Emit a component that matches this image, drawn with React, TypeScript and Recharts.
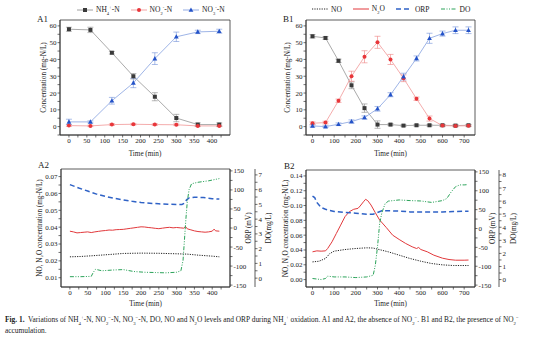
import React from 'react';
import { LineChart, Line, XAxis, YAxis, ErrorBar, ReferenceArea, Legend } from 'recharts';

const FONT = '"Liberation Serif", "Times New Roman", serif';

// A1 – NH4+ oxidation, no NO2- accumulation
const a1Time = [0, 60, 120, 180, 240, 300, 360, 420];
const a1NH4 = [58, 57.6, 44, 30, 17.8, 5.1, 1.2, 1.2];
const a1NH4Err = [1.2, 1.6, 0.8, 1.6, 2.4, 2.2, 1, 1];
const a1NO2 = [0.6, 0.4, 1.2, 1.4, 1.2, 1.1, 0.4, 0.4];
const a1NO2Err = [0.5, 0.4, 0.5, 0.5, 0.5, 0.5, 0.4, 0.4];
const a1NO3 = [2.8, 2.8, 15.4, 26, 40.5, 53.5, 56.4, 56.8];
const a1NO3Err = [1.6, 0.6, 2, 2.8, 3.5, 2.8, 1, 1.2];

// B1 – with NO2- accumulation
const b1Time = [0, 60, 120, 180, 240, 300, 360, 420, 480, 540, 600, 660, 720];
const b1NH4 = [53.8, 52.8, 39.2, 24.6, 11, 1.2, 1.2, 0.6, 0.8, 0.8, 0.8, 0.6, 0.8];
const b1NH4Err = [1, 0.8, 1, 2, 2.5, 2.2, 0.6, 0.5, 0.5, 0.5, 0.5, 0.5, 0.5];
const b1NO2 = [2, 2.4, 15.4, 30, 41.6, 50.2, 40, 28.8, 16.6, 4.8, 0.6, 0.4, 0.5];
const b1NO2Err = [0.8, 0.8, 1, 3, 3.6, 3.6, 3, 2, 1, 1.5, 0.6, 0.5, 0.5];
const b1NO3 = [0.4, 0, 1.4, 3, 5.4, 10.6, 19, 29.8, 40.6, 52.6, 55.4, 57.4, 57.4];
const b1NO3Err = [0.6, 0.5, 0.8, 1, 1, 1.4, 1.2, 2, 1.5, 3, 1.5, 2, 2];

// A2 – NO, N2O (mg-N/L), ORP (mV), DO (mg/L)
const a2NOTime = [0, 30, 60, 100, 150, 200, 250, 300, 330, 360, 400, 420];
const a2NO = [0.0224, 0.0226, 0.023, 0.0236, 0.0244, 0.0246, 0.0245, 0.0242, 0.024, 0.0234, 0.0228, 0.0224];
const a2N2OTime = [0, 10, 20, 30, 40, 50, 60, 70, 80, 90, 100, 110, 120, 130, 140, 150, 160, 170, 180, 190, 200, 210, 220, 230, 240, 250, 260, 270, 280, 290, 300, 310, 320, 325, 330, 340, 350, 360, 370, 380, 390, 400, 405, 410, 420];
const a2N2O = [0.0376, 0.0372, 0.0366, 0.0368, 0.037, 0.0372, 0.0368, 0.0372, 0.0375, 0.0378, 0.038, 0.0383, 0.0382, 0.0385, 0.0386, 0.0387, 0.039, 0.0393, 0.0396, 0.0399, 0.0402, 0.0401, 0.0398, 0.0396, 0.0393, 0.0391, 0.0394, 0.0397, 0.0399, 0.0396, 0.0398, 0.0396, 0.0394, 0.0404, 0.039, 0.0384, 0.0378, 0.0374, 0.0372, 0.037, 0.0372, 0.0376, 0.0388, 0.0378, 0.0376];
const a2ORPTime = [0, 25, 50, 75, 100, 125, 150, 175, 200, 225, 250, 275, 300, 315, 322, 328, 335, 350, 375, 400, 420];
const a2ORP = [114, 105, 97, 89, 83, 78, 74, 70, 67, 65, 63.5, 62.5, 62, 62, 65, 74, 79, 81, 80, 77, 76];
const a2DOTime = [0, 30, 60, 66, 72, 90, 120, 150, 180, 210, 240, 270, 300, 312, 318, 322, 326, 330, 335, 342, 360, 390, 420];
const a2DO = [0.1, 0.1, 0.12, 0.4, 0.6, 0.5, 0.55, 0.58, 0.45, 0.4, 0.38, 0.36, 0.4, 0.5, 1.2, 2.6, 4, 5.2, 6, 6.4, 6.5, 6.6, 6.75];

// B2
const b2NOTime = [0, 30, 60, 80, 100, 150, 200, 250, 280, 300, 350, 400, 450, 500, 550, 600, 650, 720];
const b2NO = [0.0239, 0.0248, 0.0285, 0.0352, 0.0384, 0.0406, 0.042, 0.0429, 0.0426, 0.0411, 0.0375, 0.033, 0.0285, 0.0248, 0.0217, 0.0199, 0.019, 0.019];
const b2N2OTime = [0, 20, 40, 60, 70, 90, 110, 130, 150, 170, 190, 210, 220, 235, 245, 255, 270, 290, 310, 340, 370, 400, 430, 460, 480, 490, 500, 530, 560, 600, 630, 660, 700, 720];
const b2N2O = [0.0375, 0.0388, 0.0384, 0.0388, 0.042, 0.051, 0.0623, 0.0736, 0.085, 0.0917, 0.0949, 0.0962, 0.0994, 0.105, 0.1084, 0.1066, 0.1007, 0.0903, 0.0804, 0.0705, 0.06, 0.0542, 0.0488, 0.0443, 0.042, 0.0434, 0.0406, 0.0375, 0.033, 0.0289, 0.0271, 0.0262, 0.0262, 0.0264];
const b2ORPTime = [0, 10, 20, 40, 60, 100, 150, 200, 250, 280, 300, 320, 350, 400, 450, 500, 600, 650, 700, 720];
const b2ORP = [86, 82, 69, 55.5, 51, 45, 42.5, 40.7, 38, 38, 42.5, 46.8, 47, 46, 44, 44, 44, 45, 46, 46];
const b2DOTime = [0, 40, 60, 70, 100, 150, 200, 250, 265, 280, 290, 300, 310, 320, 335, 350, 400, 450, 500, 550, 600, 620, 640, 660, 680, 700, 715];
const b2DO = [0.08, 0, 0.08, 0.26, 0.2, 0.2, 0.15, 0.2, 0.26, 0.33, 1.1, 2.5, 4.3, 5.1, 5.8, 6, 6.09, 6.04, 6.01, 5.9, 6.04, 6.2, 6.7, 7.1, 7.24, 7.24, 7.26];

// axis ticks
const a1XMajor = [0, 50, 100, 150, 200, 250, 300, 350, 400];
const a1XMinor = [25, 75, 125, 175, 225, 275, 325, 375, 425];
const b1XMajor = [0, 100, 200, 300, 400, 500, 600, 700];
const b1XMinor = [50, 150, 250, 350, 450, 550, 650];
const concMajor = [0, 10, 20, 30, 40, 50, 60];
const concMinor = [-5, 5, 15, 25, 35, 45, 55];
const a2CMajor = [0.01, 0.02, 0.03, 0.04, 0.05, 0.06, 0.07];
const a2CMinor = [0.015, 0.025, 0.035, 0.045, 0.055, 0.065];
const b2CMajor = [0, 0.02, 0.04, 0.06, 0.08, 0.1, 0.12, 0.14];
const b2CMinor = [0.01, 0.03, 0.05, 0.07, 0.09, 0.11, 0.13];
const orpMajor = [-150, -100, -50, 0, 50, 100, 150];
const orpMinor = [-125, -75, -25, 25, 75, 125];
const a2DOMajor = [0, 1, 2, 3, 4, 5, 6, 7];
const b2DOMajor = [0, 1, 2, 3, 4, 5, 6, 7, 8];
const doMinor = [0.5, 1.5, 2.5, 3.5, 4.5, 5.5, 6.5, 7.5];

const C = {
  axis: '#333',
  nh4: '#3a3a3a', nh4Line: '#a0a0a0',
  no2: '#e8363a', no2Line: '#f3a3a3',
  no3: '#2352c8', no3Line: '#93abe3',
  no: '#222', n2o: '#e2393c', orp: '#2f62c6', dox: '#2ca35a',
};

const pts = (t: number[], v: number[]) => t.map((x, i) => ({ t: x, v: v[i] }));
const union = (a: number[], b: number[]) => [...a, ...b].sort((p, q) => p - q);
const fmt = (majors: number[], digits = 0) => (v: number) =>
  majors.some((m) => Math.abs(m - v) < 1e-9) ? v.toFixed(digits) : '';

const a1Data = a1Time.map((t, i) => ({
  t, nh4: a1NH4[i], nh4Err: a1NH4Err[i], no2: a1NO2[i], no2Err: a1NO2Err[i], no3: a1NO3[i], no3Err: a1NO3Err[i],
}));
const b1Data = b1Time.map((t, i) => ({
  t, nh4: b1NH4[i], nh4Err: b1NH4Err[i], no2: b1NO2[i], no2Err: b1NO2Err[i], no3: b1NO3[i], no3Err: b1NO3Err[i],
}));

const tickStyle = { fontSize: 7, fill: '#222', fontFamily: FONT };
const axisLine = { stroke: C.axis, strokeWidth: 0.8 };
const tickLine = { stroke: C.axis, strokeWidth: 0.7 };
const titleStyle = { fontSize: 7.2, fill: '#222', fontFamily: FONT, textAnchor: 'middle' as const };

const square = (color: string) => (p: any) =>
  <rect key={`s${p.index}`} x={p.cx - 2} y={p.cy - 2} width={4} height={4} fill={color} />;
const circle = (color: string) => (p: any) =>
  <circle key={`c${p.index}`} cx={p.cx} cy={p.cy} r={2} fill={color} />;
const triangle = (color: string) => (p: any) =>
  <path key={`t${p.index}`} d={`M${p.cx},${p.cy - 2.6}L${p.cx + 2.4},${p.cy + 1.8}L${p.cx - 2.4},${p.cy + 1.8}Z`} fill={color} />;

type Item = { label: React.ReactNode; stroke: string; dash?: string; width?: number; marker?: 'square' | 'circle' | 'triangle'; markerColor?: string };

function LegendRow({ items }: { items: Item[] }) {
  return (
    <div style={{ display: 'flex', alignItems: 'center', gap: 11, fontFamily: FONT, fontSize: 7.5, color: '#222', whiteSpace: 'nowrap' }}>
      {items.map((it, i) => (
        <div key={i} style={{ display: 'flex', alignItems: 'center', gap: 3 }}>
          <svg width={16} height={8}>
            <line x1={0} y1={4} x2={16} y2={4} stroke={it.stroke} strokeWidth={it.width ?? 1} strokeDasharray={it.dash} />
            {it.marker === 'square' && <rect x={6} y={2} width={4} height={4} fill={it.markerColor} />}
            {it.marker === 'circle' && <circle cx={8} cy={4} r={2} fill={it.markerColor} />}
            {it.marker === 'triangle' && <path d="M8,1.4L10.4,5.8L5.6,5.8Z" fill={it.markerColor} />}
          </svg>
          <span>{it.label}</span>
        </div>
      ))}
    </div>
  );
}

const ion = (base: string, sub: string, sup: string) => (
  <span>{base}<sub style={{ fontSize: 4.5 }}>{sub}</sub><sup style={{ fontSize: 4.5 }}>{sup}</sup>-N</span>
);

const topItems: Item[] = [
  { label: ion('NH', '4', '+'), stroke: C.nh4Line, marker: 'square', markerColor: C.nh4 },
  { label: ion('NO', '2', '-'), stroke: C.no2Line, marker: 'circle', markerColor: C.no2 },
  { label: ion('NO', '3', '-'), stroke: C.no3Line, marker: 'triangle', markerColor: C.no3 },
];
const gasItems: Item[] = [
  { label: 'NO', stroke: C.no, dash: '1.2 1.2' },
  { label: <span>N<sub style={{ fontSize: 4.5 }}>2</sub>O</span>, stroke: C.n2o },
  { label: 'ORP', stroke: C.orp, dash: '5 3', width: 1.5 },
  { label: 'DO', stroke: C.dox, dash: '4 1.5 1 1.5 1 1.5' },
];

function ConcChart({ data, xDomain, xMajor, xMinor, yWidth, rightPad, titleOffset, legend, legendLeft }: any) {
  return (
    <LineChart width={277} height={165} margin={{ top: 20, right: rightPad, bottom: 0, left: 0 }}>
      <XAxis type="number" dataKey="t" domain={xDomain} ticks={union(xMajor, xMinor)} interval={0}
        tickFormatter={fmt(xMajor)} tick={tickStyle} tickSize={2.5} tickMargin={1} axisLine={axisLine} tickLine={tickLine} height={30}
        label={{ value: 'Time (min)', position: 'insideBottom', offset: 9, ...titleStyle, style: titleStyle }} />
      <YAxis type="number" domain={[-5, 63.5]} ticks={union(concMajor, concMinor)} interval={0}
        tickFormatter={fmt(concMajor)} tick={tickStyle} tickSize={2.5} tickMargin={1} axisLine={axisLine} tickLine={tickLine} width={yWidth}
        label={{ value: 'Concentration (mg-N/L)', angle: -90, position: 'insideLeft', offset: titleOffset, ...titleStyle, style: titleStyle }} />
      <ReferenceArea x1={xDomain[0]} x2={xDomain[1]} y1={-5} y2={63.5} fill="none" fillOpacity={0} stroke={C.axis} strokeWidth={0.8} />
      <Legend verticalAlign="middle" align="center" layout="horizontal"
        wrapperStyle={{ left: legendLeft, top: 4, width: 'auto', height: 'auto' }}
        content={() => <LegendRow items={legend} />} />
      <Line data={data} dataKey="nh4" stroke={C.nh4Line} strokeWidth={0.9} dot={square(C.nh4)} isAnimationActive={false}>
        <ErrorBar dataKey="nh4Err" width={3} strokeWidth={0.6} stroke="#888" direction="y" />
      </Line>
      <Line data={data} dataKey="no2" stroke={C.no2Line} strokeWidth={0.9} dot={circle(C.no2)} isAnimationActive={false}>
        <ErrorBar dataKey="no2Err" width={3} strokeWidth={0.6} stroke="#ee8080" direction="y" />
      </Line>
      <Line data={data} dataKey="no3" stroke={C.no3Line} strokeWidth={0.9} dot={triangle(C.no3)} isAnimationActive={false}>
        <ErrorBar dataKey="no3Err" width={3} strokeWidth={0.6} stroke="#7090d8" direction="y" />
      </Line>
    </LineChart>
  );
}

function GasChart({ series, xDomain, xMajor, xMinor, cDomain, cMajor, cMinor, yWidth, titleOffset, orpWidth, orpTitle, doDomain, doMajor, doWidth, doTitle, top }: any) {
  return (
    <LineChart width={277} height={165} margin={{ top, right: 0, bottom: 0, left: 0 }}>
      <XAxis type="number" dataKey="t" domain={xDomain} ticks={union(xMajor, xMinor)} interval={0}
        tickFormatter={fmt(xMajor)} tick={tickStyle} tickSize={2.5} tickMargin={1} axisLine={axisLine} tickLine={tickLine} height={28}
        label={{ value: 'Time (min)', position: 'insideBottom', offset: 9, ...titleStyle, style: titleStyle }} />
      <YAxis yAxisId="a" type="number" domain={cDomain} ticks={union(cMajor, cMinor)} interval={0}
        tickFormatter={fmt(cMajor, 2)} tick={tickStyle} tickSize={2.5} tickMargin={1} axisLine={axisLine} tickLine={tickLine} width={yWidth}
        label={{ value: 'NO, N₂O concentration (mg-N/L)', angle: -90, position: 'insideLeft', offset: titleOffset, ...titleStyle, style: titleStyle }} />
      <YAxis yAxisId="b" orientation="right" type="number" domain={[-155, 155]} ticks={union(orpMajor, orpMinor)} interval={0}
        tickFormatter={fmt(orpMajor)} tick={tickStyle} tickSize={2.5} tickMargin={1} axisLine={axisLine} tickLine={tickLine} width={orpWidth}
        label={{ value: 'ORP (mV)', angle: -90, position: 'insideRight', offset: orpTitle, ...titleStyle, style: titleStyle }} />
      <YAxis yAxisId="c" orientation="right" type="number" domain={doDomain} ticks={union(doMajor, doMinor.filter((m: number) => m < doDomain[1]))} interval={0}
        tickFormatter={fmt(doMajor)} tick={tickStyle} tickSize={2.5} tickMargin={1} axisLine={axisLine} tickLine={tickLine} width={doWidth}
        label={{ value: 'DO(mg/L)', angle: -90, position: 'insideRight', offset: doTitle, ...titleStyle, style: titleStyle }} />
      <ReferenceArea yAxisId="a" x1={xDomain[0]} x2={xDomain[1]} y1={cDomain[0]} y2={cDomain[1]} fill="none" fillOpacity={0} stroke={C.axis} strokeWidth={0.8} />
      <Line yAxisId="a" data={series.no} dataKey="v" stroke={C.no} strokeWidth={1} strokeDasharray="1.2 1.2" dot={false} isAnimationActive={false} />
      <Line yAxisId="a" data={series.n2o} dataKey="v" stroke={C.n2o} strokeWidth={1} dot={false} isAnimationActive={false} />
      <Line yAxisId="b" data={series.orp} dataKey="v" stroke={C.orp} strokeWidth={1.5} strokeDasharray="5 3" dot={false} isAnimationActive={false} />
      <Line yAxisId="c" data={series.dox} dataKey="v" stroke={C.dox} strokeWidth={1} strokeDasharray="4 1.5 1 1.5 1 1.5" dot={false} isAnimationActive={false} />
    </LineChart>
  );
}

const panelLabel = (text: string, left: number, top: number) => (
  <div style={{ position: 'absolute', left, top, fontFamily: FONT, fontSize: 9, color: '#222', lineHeight: '9px' }}>{text}</div>
);

const s = { fontSize: 4.8 };

export default function App() {
  return (
    <div style={{ position: 'absolute', left: 0, top: 0, width: 554, height: 337, background: '#fff', overflow: 'hidden' }}>
      <div style={{ position: 'absolute', left: 0, top: 0 }}>
        <ConcChart data={a1Data} xDomain={[-25, 450]} xMajor={a1XMajor} xMinor={a1XMinor} yWidth={60} rightPad={47} titleOffset={43} legend={topItems} legendLeft={77} />
      </div>
      <div style={{ position: 'absolute', left: 277, top: 0 }}>
        <ConcChart data={b1Data} xDomain={[-30, 750]} xMajor={b1XMajor} xMinor={b1XMinor} yWidth={29} rightPad={79} titleOffset={10} legend={gasItems} legendLeft={35} />
      </div>
      <div style={{ position: 'absolute', left: 0, top: 150 }}>
        <GasChart
          series={{ no: pts(a2NOTime, a2NO), n2o: pts(a2N2OTime, a2N2O), orp: pts(a2ORPTime, a2ORP), dox: pts(a2DOTime, a2DO) }}
          xDomain={[-25, 450]} xMajor={a1XMajor} xMinor={a1XMinor}
          cDomain={[0.0045, 0.0745]} cMajor={a2CMajor} cMinor={a2CMinor} yWidth={61} titleOffset={39}
          orpWidth={25} orpTitle={7} doDomain={[-0.6, 7.4]} doMajor={a2DOMajor} doWidth={22} doTitle={9} top={19} />
      </div>
      <div style={{ position: 'absolute', left: 277, top: 150 }}>
        <GasChart
          series={{ no: pts(b2NOTime, b2NO), n2o: pts(b2N2OTime, b2N2O), orp: pts(b2ORPTime, b2ORP), dox: pts(b2DOTime, b2DO) }}
          xDomain={[-30, 750]} xMajor={b1XMajor} xMinor={b1XMinor}
          cDomain={[-0.01, 0.148]} cMajor={b2CMajor} cMinor={b2CMinor} yWidth={29} titleOffset={8}
          orpWidth={24} orpTitle={7} doDomain={[-0.57, 8.38]} doMajor={b2DOMajor} doWidth={55} doTitle={41} top={20} />
      </div>
      {panelLabel('A1', 37, 15)}
      {panelLabel('B1', 283, 15)}
      {panelLabel('A2', 38, 161)}
      {panelLabel('B2', 284, 162)}
      <div style={{ position: 'absolute', left: 5, top: 314, width: 546, fontFamily: FONT, fontSize: 7.4, lineHeight: '7.5px', color: '#222' }}>
        <b>Fig. 1.</b>&nbsp; Variations of NH<sub style={s}>4</sub><sup style={s}>+</sup>-N, NO<sub style={s}>2</sub><sup style={s}>−</sup>-N, NO<sub style={s}>3</sub><sup style={s}>−</sup>-N, DO, NO and N<sub style={s}>2</sub>O levels and ORP during NH<sub style={s}>4</sub><sup style={s}>+</sup> oxidation. A1 and A2, the absence of NO<sub style={s}>2</sub><sup style={s}>−</sup>. B1 and B2, the presence of NO<sub style={s}>2</sub><sup style={s}>−</sup> accumulation.
      </div>
    </div>
  );
}
